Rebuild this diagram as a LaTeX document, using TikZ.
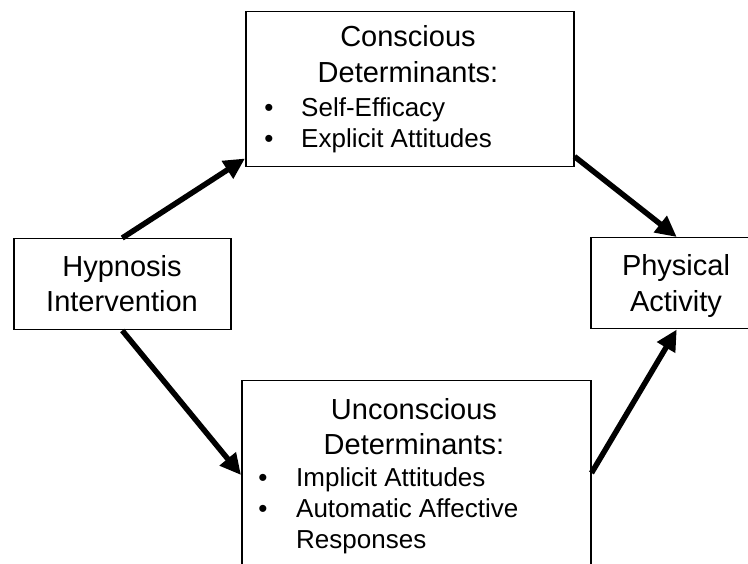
\documentclass[tikz,border=0pt]{standalone}
\usepackage{fontspec}
\setmainfont{Liberation Sans}
\usetikzlibrary{arrows.meta,calc}

\begin{document}
\begin{tikzpicture}[x=1pt, y=-1pt,
	box/.style={draw, line width=1.5pt, inner sep=0pt, anchor=north west},
	title/.style={anchor=base, inner sep=0pt, font=\fontsize{29}{35}\selectfont},
	item/.style={anchor=base west, inner sep=0pt, font=\fontsize{26}{31}\selectfont},
	dot/.style={anchor=base, inner sep=0pt, font=\fontsize{26}{31}\selectfont},
	link/.style={line width=5.5pt, -{Triangle[length=21pt, width=20pt]}}]
	\useasboundingbox (0, 0) rectangle (748, 564);
	\clip (0, 0) rectangle (748, 564);
	% boxes
	\node[box, minimum width=217pt, minimum height=91pt] (hyp) at (13, 238) {};
	\node[box, minimum width=328pt, minimum height=155pt] (consc) at (245, 11) {};
	\node[box, minimum width=349pt, minimum height=210pt] (unc) at (241, 380) {};
	\node[box, minimum width=172pt, minimum height=91pt] (phys) at (590, 237) {};
	% texts
	\node[title] (hypA) at (122, 277) {Hypnosis};
	\node[title] (hypB) at (122, 312) {Intervention};
	\node[title] (physA) at (676, 276) {Physical};
	\node[title] (physB) at (676, 312) {Activity};
	\node[title] (conscA) at (408, 47) {Conscious};
	\node[title] (conscB) at (408, 83) {Determinants:};
	\node[dot] (conscD1) at (269, 117) {•};
	\node[dot] (conscD2) at (269, 148) {•};
	\node[item] (conscI1) at (301, 117) {Self-Efficacy};
	\node[item] (conscI2) at (301, 148) {Explicit Attitudes};
	\node[title] (uncA) at (414, 420) {Unconscious};
	\node[title] (uncB) at (414, 454) {Determinants:};
	\node[dot] (uncD1) at (263, 486) {•};
	\node[dot] (uncD2) at (263, 517) {•};
	\node[item] (uncI1) at (296, 486) {Implicit Attitudes};
	\node[item] (uncI2) at (296, 517) {Automatic Affective};
	\node[item] (uncI3) at (296, 548) {Responses};
	% arrows
	\coordinate (cIn) at ($(consc.south west)+(0,-9)$);
	\coordinate (cOut) at ($(consc.south east)+(0,-11)$);
	\coordinate (uIn) at ($(unc.north west)+(0,95)$);
	\coordinate (uOut) at ($(unc.north east)+(0,93)$);
	\draw[link] (hyp.north) -- (cIn);
	\draw[link] (hyp.south) -- (uIn);
	\draw[link] (cOut) -- (phys.north);
	\draw[link] (uOut) -- (phys.south);
\end{tikzpicture}
\end{document}
